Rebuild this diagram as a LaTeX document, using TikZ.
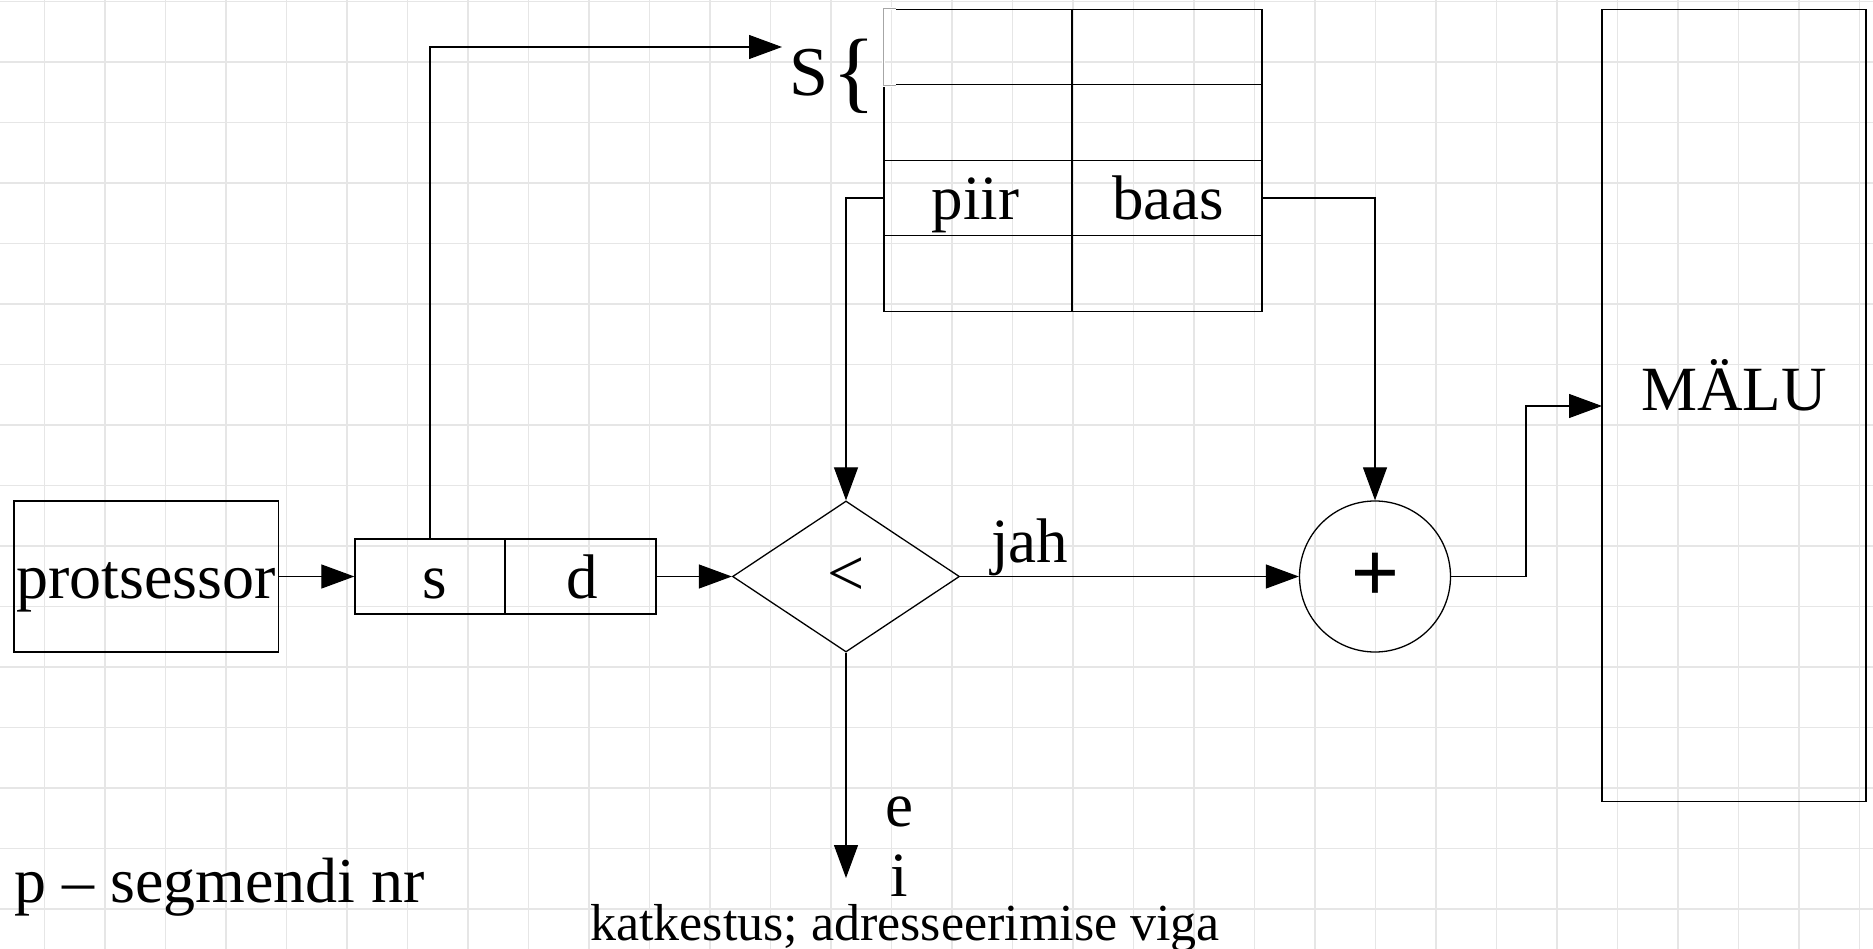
\documentclass[tikz,border=0pt]{standalone}
\usepackage{fontspec}
\setmainfont{Liberation Serif}
\newfontfamily\sansf{Liberation Sans}
\usetikzlibrary{arrows.meta,shapes.geometric}
\definecolor{gridcol}{HTML}{E6E6E6}
\tikzset{
  gridline/.style={draw=gridcol, line width=1.5pt},
  box/.style={draw, line width=1.3pt, inner sep=0pt},
  cell/.style={draw, line width=1.4pt, inner sep=0pt, minimum height=75.5pt},
  lbl/.style={inner sep=0pt, font=\fontsize{63}{70}\selectfont},
  arr/.style={line width=1.2pt, -{Triangle[length=33pt,width=24pt]}},
}
\begin{document}
\begin{tikzpicture}[x=1pt,y=-1pt]
\useasboundingbox (0,0) rectangle (1873,949);
\fill[white] (0,0) rectangle (1873,949);
% background grid
\foreach \i in {0,...,30} \draw[gridline] ({44.3+60.5*\i},0) -- ({44.3+60.5*\i},949);
\foreach \j in {0,...,15} \draw[gridline] (0,{1.7+60.5*\j}) -- (1873,{1.7+60.5*\j});

% main blocks
\node[box, minimum width=264.5pt, minimum height=151pt] (proc) at (146.2,576.5) {};
\node[box, minimum width=150pt, minimum height=75pt] (sbox) at (430,576.5) {};
\node[box, minimum width=151pt, minimum height=75pt] (dbox) at (580.5,576.5) {};
\node[box, diamond, aspect=1.5, minimum width=227pt, minimum height=151pt,
      font=\fontsize{66}{70}\selectfont] (cmp) at (846,576.5) {<};
\node[box, circle, minimum size=151pt,
      font=\sansf\fontsize{82}{90}\selectfont] (plus) at (1375,576.5) {+};
\node[box, minimum width=264pt, minimum height=792pt] (mem) at (1734,405.5) {};

% segment table
\node[cell, minimum width=188pt] (t11) at (978,47) {};
\node[cell, minimum width=190pt] (t12) at (1167,47) {};
\node[cell, minimum width=188pt] (t21) at (978,122.5) {};
\node[cell, minimum width=190pt] (t22) at (1167,122.5) {};
\node[cell, minimum width=188pt] (t31) at (978,198) {};
\node[cell, minimum width=190pt] (t32) at (1167,198) {};
\node[cell, minimum width=188pt] (t41) at (978,273.5) {};
\node[cell, minimum width=190pt] (t42) at (1167,273.5) {};
% lighter top-left corner of the table
\draw[white, line width=2.5pt] (t11.north west) -- (t11.south west);
\draw[white, line width=2.5pt] (t11.north west) -- ++(13,0);
\draw[white, line width=2.5pt] (t11.south west) -- ++(13,0);
\draw[gray!70, line width=1.2pt] (t11.north west) -- (t11.south west);
\draw[gray!70, line width=1.2pt] (t11.north west) -- ++(13,0);
\draw[gray!70, line width=1.2pt] (t11.south west) -- ++(13,0);

% texts
\node[lbl, anchor=base, font=\fontsize{64}{70}\selectfont] (tproc) at (146,598) {protsessor};
\node[lbl, anchor=base] (ts) at (435,598) {s};
\node[lbl, anchor=base] (td) at (582,598) {d};
\node[lbl, anchor=base] (tpiir) at (975.5,220) {piir};
\node[lbl, anchor=base] (tbaas) at (1168,220) {baas};
\node[lbl, anchor=base] (tmem) at (1734,410) {MÄLU};
\node[lbl, anchor=base west] (tjah) at (991,562) {jah};
\node[lbl, anchor=base west, font=\fontsize{70}{76}\selectfont] (sname) at (789,96) {S};
\node[lbl, anchor=base west, font=\fontsize{90}{100}\selectfont] (brace) at (832,102) {\{};
\node[lbl, anchor=base west, font=\fontsize{64}{70}\selectfont] (note) at (14,902) {p – segmendi nr};
\node[lbl, anchor=base] (te) at (899,826) {e};
\node[lbl, anchor=base] (ti) at (899,896) {i};
\node[lbl, anchor=base, font=\fontsize{52}{60}\selectfont] (tkat) at (905,940) {katkestus; adresseerimise viga};

% free ends
\coordinate (stip) at (782,47);
\coordinate (memin) at (1602,406);
\coordinate (eitip) at (846,878);

% connectors
\draw[arr] (proc.east) -- (sbox.west);
\draw[arr] (dbox.east) -- (cmp.west);
\draw[arr] (cmp.east) -- (plus.west);
\draw[arr] (sbox.north) |- (stip);
\draw[arr] (t31.west) -| (cmp.north);
\draw[arr] (t32.east) -| (plus.north);
\draw[arr] (plus.east) -| ([xshift=-76pt]memin) -- (memin);
\draw[arr] (cmp.south) -- (eitip);
\end{tikzpicture}
\end{document}
